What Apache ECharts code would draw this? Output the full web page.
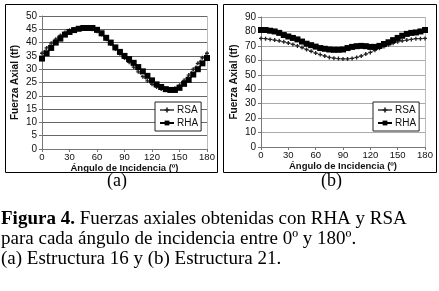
<!DOCTYPE html>
<html>
<head>
<meta charset="utf-8">
<script src="https://cdn.jsdelivr.net/npm/echarts@6/dist/echarts.min.js"></script>
<style>
  html, body { margin: 0; padding: 0; background: #fff; }
  #chart { width: 439px; height: 291px; }
</style>
</head>
<body>
<div id="chart"></div>
<script>
// angles 0..180 every 5 degrees
const angles = [0,5,10,15,20,25,30,35,40,45,50,55,60,65,70,75,80,85,90,95,100,105,110,115,120,125,130,135,140,145,150,155,160,165,170,175,180]

// (a) Estructura 16
const rsaA = [36,38,39.8,41.3,42.7,43.8,44.6,45.1,45.4,45.5,45.4,45,44.3,43,41.3,39.5,37.6,35.8,34.2,32.6,30.8,29,27.2,25.6,24.3,23.3,22.6,22.2,22.3,22.8,24,25.8,27.8,30,32.2,34.3,36]
const rhaA = [34,36,38,40,41.5,43,44,44.7,45.2,45.5,45.5,45.5,44.8,43.5,41.8,40,38.2,36.5,35,33.8,32.4,30.8,29.2,27.5,25.8,24.3,23.3,22.5,22.2,22.2,23,24.5,26,28,30,32.2,34.2]

// (b) Estructura 21
const rsaB = [75.2,75,74.5,74,73.5,72.8,72,71,70,68.8,67.5,66.3,65,64,63,62,61.5,61.2,61,61,61.3,62,63,64.3,65.5,67,68.3,69.5,70.8,71.8,72.8,73.5,74,74.5,75,75,75.2]
const rhaB = [81,81,80.5,80,79,77.5,76.5,75.5,74.5,73,71.5,70.5,69.5,68.5,68,67.5,67.3,67.3,67.5,68.5,69.3,69.8,70,69.8,69.3,69.3,70,71.3,72.5,74,75.5,77,78.3,79,79.3,80,81]

const xTicks = [0, 30, 60, 90, 120, 150, 180]
const xName = 'Ángulo de Incidencia (º)'
const yName = 'Fuerza Axial (tf)'

const pair = (ys) => angles.map((a, i) => [a, ys[i]])
const plusSymbol = 'path://M2,0H4V2H6V4H4V6H2V4H0V2H2Z'

const chart = echarts.init(document.getElementById('chart'))

const xAxisBase = (gridIndex) => ({
  type: 'value',
  gridIndex,
  min: xTicks[0],
  max: xTicks[xTicks.length - 1],
  interval: 30,
  name: xName,
  nameLocation: 'middle',
  nameGap: 10,
  nameTextStyle: { fontFamily: 'Liberation Sans', fontSize: 9.5, fontWeight: 'bold', color: '#111' },
  axisLine: { lineStyle: { color: '#777' } },
  axisTick: { show: true, length: 3, lineStyle: { color: '#777' } },
  axisLabel: { fontFamily: 'Liberation Sans', fontSize: 9.5, color: '#111', margin: 3 },
  splitLine: { show: false },
})

const yAxisBase = (gridIndex, max, interval, gridColor) => ({
  type: 'value',
  gridIndex,
  min: 0,
  max,
  interval,
  name: yName,
  nameLocation: 'middle',
  nameGap: 22,
  nameTextStyle: { fontFamily: 'Liberation Sans', fontSize: 10, fontWeight: 'bold', color: '#111' },
  axisLine: { show: true, lineStyle: { color: '#777' } },
  axisTick: { show: true, length: 3, lineStyle: { color: '#777' } },
  axisLabel: { fontFamily: 'Liberation Sans', fontSize: 10, color: '#111', margin: 5 },
  splitLine: { show: true, lineStyle: { color: gridColor, width: 1 } },
})

const legendBase = (left) => ({
  orient: 'vertical',
  left,
  top: 102,
  padding: [3, 3, 3, 4],
  itemGap: 3,
  itemWidth: 14,
  itemHeight: 6,
  borderColor: '#222',
  borderWidth: 1,
  backgroundColor: '#fff',
  textStyle: { fontFamily: 'Liberation Sans', fontSize: 10, color: '#111', padding: [0, 0, 0, -2] },
  data: ['RSA', 'RHA'],
})

const rsaSeries = (idx, data) => ({
  name: 'RSA',
  type: 'line',
  xAxisIndex: idx,
  yAxisIndex: idx,
  data: pair(data),
  symbol: plusSymbol,
  symbolSize: 4,
  itemStyle: { color: '#222' },
  lineStyle: { color: '#666', width: 1 },
  animation: false,
})

const rhaSeries = (idx, data) => ({
  name: 'RHA',
  type: 'line',
  xAxisIndex: idx,
  yAxisIndex: idx,
  data: pair(data),
  symbol: 'rect',
  symbolSize: 6,
  itemStyle: { color: '#000' },
  lineStyle: { color: '#000', width: 1.5 },
  animation: false,
})

const option = {
  backgroundColor: '#fff',
  animation: false,
  grid: [
    { left: 42, right: 232, top: 16, bottom: 142 },
    { left: 261, right: 14, top: 17, bottom: 144 },
  ],
  xAxis: [xAxisBase(0), xAxisBase(1)],
  yAxis: [yAxisBase(0, 50, 5, '#666'), yAxisBase(1, 90, 10, '#aaa')],
  legend: [
    legendBase(155),
    Object.assign(legendBase(373), { seriesIndex: [2, 3] }),
  ],
  series: [
    rsaSeries(0, rsaA),
    rhaSeries(0, rhaA),
    rsaSeries(1, rsaB),
    rhaSeries(1, rhaB),
  ],
  graphic: [
    { type: 'rect', shape: { x: 5.5, y: 4.5, width: 212, height: 168 }, style: { fill: null, stroke: '#000', lineWidth: 1 }, silent: true },
    { type: 'rect', shape: { x: 223.5, y: 4.5, width: 213, height: 168 }, style: { fill: null, stroke: '#000', lineWidth: 1 }, silent: true },
    { type: 'line', shape: { x1: 207.5, y1: 16, x2: 207.5, y2: 149 }, style: { stroke: '#bbb', lineWidth: 1 }, silent: true },
    { type: 'line', shape: { x1: 425.5, y1: 17, x2: 425.5, y2: 147 }, style: { stroke: '#bbb', lineWidth: 1 }, silent: true },
    { type: 'text', left: 107, top: 172, style: { text: '(a)', font: '18px "Liberation Serif"', fill: '#000' } },
    { type: 'text', left: 321, top: 172, style: { text: '(b)', font: '18px "Liberation Serif"', fill: '#000' } },
    {
      type: 'text', left: 1, top: 209,
      style: {
        text: '{b|Figura 4.} Fuerzas axiales obtenidas con RHA y RSA\npara cada ángulo de incidencia entre 0º y 180º.\n(a) Estructura 16 y (b) Estructura 21.',
        font: '19px "Liberation Serif"',
        fill: '#000',
        lineHeight: 20,
        rich: { b: { font: 'bold 19px "Liberation Serif"', fill: '#000', lineHeight: 20 } },
      },
    },
  ],
}

chart.setOption(option)
</script>
</body>
</html>
